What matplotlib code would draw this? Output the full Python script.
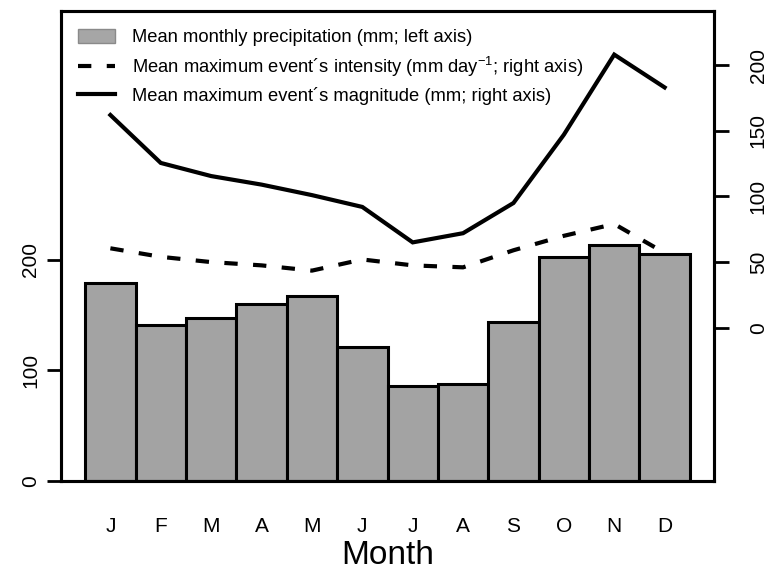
import numpy as np
import matplotlib.pyplot as plt
from matplotlib.patches import Patch
from matplotlib.lines import Line2D

plt.rcParams['font.family'] = ['Liberation Sans', 'DejaVu Sans']
plt.rcParams['mathtext.fontset'] = 'custom'
plt.rcParams['mathtext.rm'] = 'Liberation Sans'
plt.rcParams['mathtext.it'] = 'Liberation Sans:italic'

months = ['J', 'F', 'M', 'A', 'M', 'J', 'J', 'A', 'S', 'O', 'N', 'D']
precip = [179, 141, 147, 160, 167, 121, 86, 88, 144, 203, 213, 205]
intensity = [60.5, 54, 50, 47.5, 43.5, 52, 47.5, 46, 59, 70, 79, 57]
magnitude = [162, 125.5, 115.5, 109, 101, 92, 65, 72, 95, 147, 208, 183]

fig = plt.figure(figsize=(7.69, 5.74), dpi=100)
ax = fig.add_axes([61/769, 1 - 481/574, (714 - 61)/769, (481 - 11)/574])
x = np.arange(len(months))

ax.bar(x, precip, width=1.0, color='#a3a3a3', edgecolor='black', linewidth=2.2, zorder=2)
ax.set_xlim(-0.98, 11.98)
ax.set_ylim(0, 425)
ax.set_yticks([0, 100, 200])
ax.set_xticks(x)
ax.set_xticklabels(months)
ax.tick_params(axis='x', length=0, pad=26, labelsize=15)
ax.tick_params(axis='y', length=10, width=2, pad=5, labelsize=15, labelrotation=90)
for lab in ax.get_yticklabels():
    lab.set_va('center')
ax.set_xlabel('Month', fontsize=24, labelpad=3)
for s in ax.spines.values():
    s.set_linewidth(2.2)

ax2 = ax.twinx()
ax2.set_ylim(-116.7, 241.2)
ax2.set_yticks([0, 50, 100, 150, 200])
ax2.tick_params(axis='y', length=11, width=2, pad=14, labelsize=15, labelrotation=90)
for lab in ax2.get_yticklabels():
    lab.set_va('center')
ax2.plot(x, intensity, color='black', linewidth=3, linestyle=(0, (3.2, 3.7)))
ax2.plot(x, magnitude, color='black', linewidth=3, solid_joinstyle='miter')
for s in ax2.spines.values():
    s.set_linewidth(2.2)

handles = [
    Patch(facecolor='#a6a6a6', edgecolor='#8a8a8a', linewidth=1),
    Line2D([], [], color='black', linewidth=3, linestyle=(0, (3.2, 3.7))),
    Line2D([], [], color='black', linewidth=3),
]
labels = [
    'Mean monthly precipitation (mm; left axis)',
    'Mean maximum event\u00b4s intensity (mm day$^{-1}$; right axis)',
    'Mean maximum event\u00b4s magnitude (mm; right axis)',
]
ax2.legend(handles, labels, loc='upper left', bbox_to_anchor=(78/769, 1 - 29/574),
           bbox_transform=fig.transFigure, frameon=False, fontsize=13.2,
           handlelength=2.0, handleheight=0.8, handletextpad=0.95, labelspacing=0.45,
           borderaxespad=0, borderpad=0)

fig.savefig('out.png', dpi=100)
